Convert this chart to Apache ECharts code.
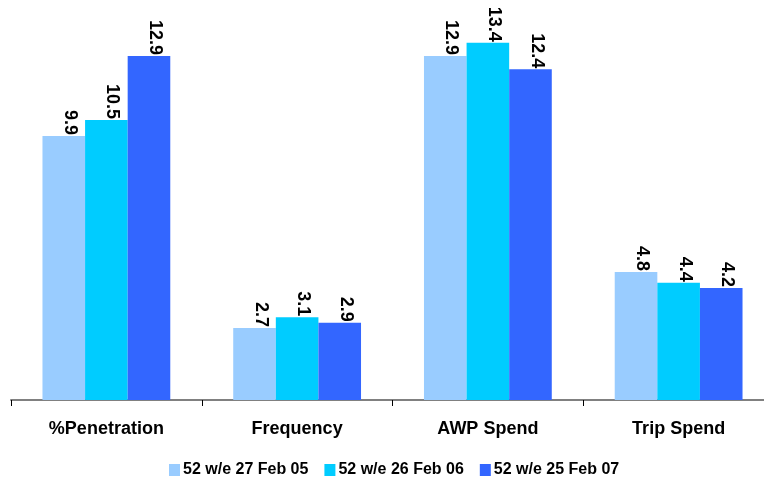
<!DOCTYPE html>
<html><head><meta charset="utf-8">
<script src="https://cdn.jsdelivr.net/npm/echarts@6/dist/echarts.min.js"></script>
<style>html,body{margin:0;padding:0;background:#fff;overflow:hidden}#c{width:790px;height:480px}</style>
</head><body><div id="c"></div>
<script>
var categories = ['%Penetration', 'Frequency', 'AWP Spend', 'Trip Spend'];
var seriesNames = ['52 w/e 27 Feb 05', '52 w/e 26 Feb 06', '52 w/e 25 Feb 07'];
var s2005 = [9.9, 2.7, 12.9, 4.8];
var s2006 = [10.5, 3.1, 13.4, 4.4];
var s2007 = [12.9, 2.9, 12.4, 4.2];
var colors = ['#99CCFF', '#00CCFF', '#3366FF'];
var font = 'Arial, "Liberation Sans", sans-serif';
function mk(name, data, color) {
  return {
    name: name, type: 'bar', data: data, barGap: '0%', barCategoryGap: '33%',
    itemStyle: { color: color },
    label: { show: true, position: 'top', rotate: -90, align: 'right', verticalAlign: 'middle',
      distance: 1, offset: [0, -6], fontFamily: font, fontWeight: 'bold', fontSize: 18, color: '#000',
      formatter: function (p) { return p.value.toFixed(1); } }
  };
}
var chart = echarts.init(document.getElementById('c'), null, { renderer: 'canvas' });
chart.setOption({
  animation: false,
  color: colors,
  grid: { left: 11, width: 763, top: 0, height: 400, containLabel: false },
  legend: { top: 462, left: 169, padding: 0, itemWidth: 11, itemHeight: 12, itemGap: 16,
    icon: 'rect', textStyle: { fontFamily: font, fontWeight: 'bold', fontSize: 16, color: '#000', padding: [0, 0, 0, -2] } },
  xAxis: { type: 'category', data: categories,
    axisLine: { lineStyle: { color: '#808080', width: 2 } },
    axisTick: { show: true, length: 6, lineStyle: { color: '#000', width: 1 } },
    axisLabel: { margin: 20, fontFamily: font, fontWeight: 'bold', fontSize: 18, color: '#000' } },
  yAxis: { type: 'value', min: 0, max: 15, show: false, splitLine: { show: false } },
  series: [mk(seriesNames[0], s2005, colors[0]), mk(seriesNames[1], s2006, colors[1]), mk(seriesNames[2], s2007, colors[2])]
});
</script></body></html>
